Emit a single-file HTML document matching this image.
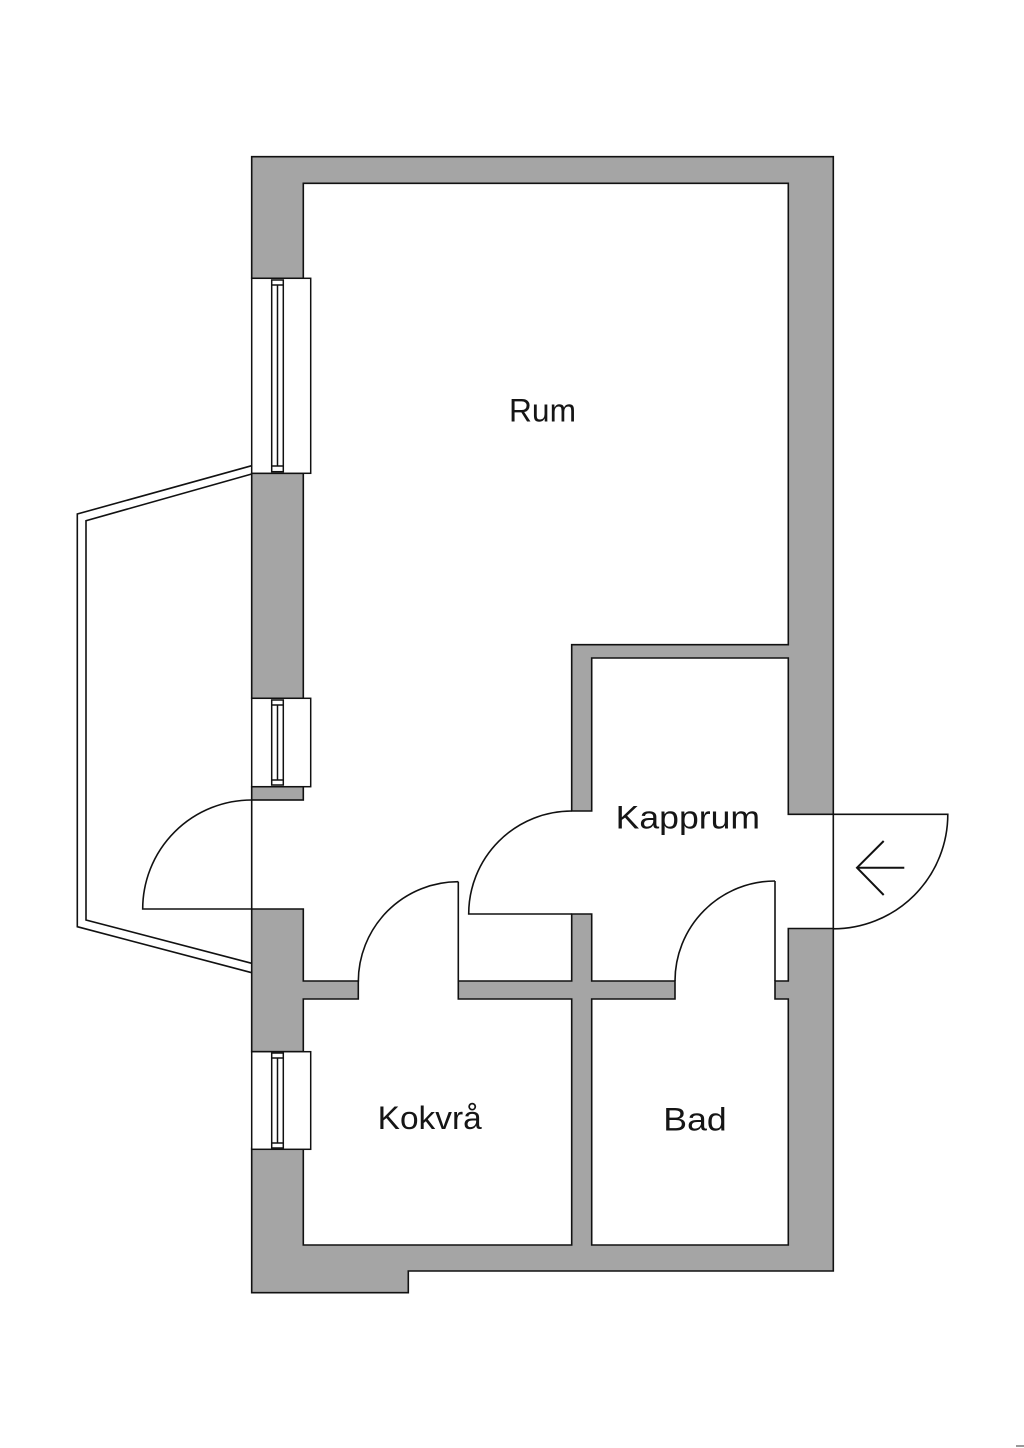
<!DOCTYPE html>
<html>
<head>
<meta charset="utf-8">
<style>
  html, body { margin: 0; padding: 0; background: #ffffff; }
  body { width: 1024px; height: 1448px; overflow: hidden; }
  svg { display: block; }
  text { font-family: "Liberation Sans", sans-serif; font-size: 32px; fill: #151515; }
</style>
</head>
<body>
<svg width="1024" height="1448" viewBox="0 0 1024 1448" xmlns="http://www.w3.org/2000/svg">
  <rect x="0" y="0" width="1024" height="1448" fill="#ffffff"/>

  <!-- Balcony outline -->
  <polyline points="251.7,465.7 77.3,514 77.3,926.7 251.7,972.7" fill="none" stroke="#111" stroke-width="1.6"/>
  <polyline points="251.7,474 86,520.7 86,920 251.7,963.3" fill="none" stroke="#111" stroke-width="1.6"/>

  <g fill="#a5a5a5" stroke="#111" stroke-width="1.6" stroke-linejoin="miter">
    <!-- top + right upper wall + Kapprum partition upper -->
    <polygon points="251.7,156.7 833.3,156.7 833.3,814.3 788.3,814.3 788.3,658 591.7,658 591.7,811 571.7,811 571.7,644.7 788.3,644.7 788.3,183.3 303.3,183.3 303.3,278.3 251.7,278.3"/>
    <!-- left wall between windows -->
    <rect x="251.7" y="473.3" width="51.6" height="225"/>
    <rect x="251.7" y="786.7" width="51.6" height="13.3"/>
    <!-- lower left -->
    <polygon points="251.7,909 303.3,909 303.3,981 358.3,981 358.3,999 303.3,999 303.3,1051.7 251.7,1051.7"/>
    <!-- bottom complex -->
    <polygon points="251.7,1148.3 303.3,1148.3 303.3,1245 571.7,1245 571.7,999 458.3,999 458.3,981 571.7,981 571.7,914 591.7,914 591.7,981 675,981 675,999 591.7,999 591.7,1245 788.3,1245 788.3,999 775,999 775,981 788.3,981 788.3,928.5 833.3,928.5 833.3,1271 408.3,1271 408.3,1292.7 251.7,1292.7"/>
  </g>

  <!-- Windows -->
  <g fill="#ffffff" stroke="#111" stroke-width="1.5">
    <rect x="251.7" y="278.3" width="59" height="195"/>
    <rect x="271.7" y="280" width="11.6" height="191.7"/>
    <line x1="277.5" y1="285" x2="277.5" y2="466"/>
    <line x1="271.7" y1="285" x2="283.3" y2="285"/>
    <line x1="271.7" y1="466" x2="283.3" y2="466"/>

    <rect x="251.7" y="698.3" width="59" height="88.4"/>
    <rect x="271.7" y="700" width="11.6" height="85"/>
    <line x1="277.5" y1="705" x2="277.5" y2="780"/>
    <line x1="271.7" y1="705" x2="283.3" y2="705"/>
    <line x1="271.7" y1="780" x2="283.3" y2="780"/>

    <rect x="251.7" y="1051.7" width="59" height="97.6"/>
    <rect x="271.7" y="1053" width="11.6" height="95"/>
    <line x1="277.5" y1="1058" x2="277.5" y2="1143"/>
    <line x1="271.7" y1="1058" x2="283.3" y2="1058"/>
    <line x1="271.7" y1="1143" x2="283.3" y2="1143"/>
  </g>

  <!-- Doors -->
  <g fill="none" stroke="#111" stroke-width="1.6">
    <!-- balcony door -->
    <line x1="251.7" y1="800" x2="251.7" y2="909"/>
    <path d="M251.7,800 A109,109 0 0 0 142.7,909 L251.7,909"/>
    <!-- Kokvrå door -->
    <path d="M458.3,881.7 A100,100 0 0 0 358.3,981.7"/>
    <line x1="458.3" y1="881.7" x2="458.3" y2="981"/>
    <!-- Kapprum to Rum door -->
    <path d="M571.7,811 A103,103 0 0 0 468.7,914 L571.7,914"/>
    <!-- Bad door -->
    <path d="M775,881 A100,100 0 0 0 675,981"/>
    <line x1="775" y1="881" x2="775" y2="981"/>
    <!-- entrance door -->
    <line x1="833.3" y1="814.3" x2="833.3" y2="928.5"/>
    <path d="M833.3,814.3 L947.8,814.3 A114.5,114.5 0 0 1 833.3,928.8"/>
  </g>

  <!-- Entrance arrow -->
  <g fill="none" stroke="#111" stroke-width="2">
    <line x1="904.3" y1="867.7" x2="857" y2="867.7"/>
    <polyline points="883.7,841 857,867.7 883.7,895"/>
  </g>

  <!-- Labels -->
  <text x="509" y="421.7" textLength="67" lengthAdjust="spacingAndGlyphs">Rum</text>
  <text x="615.7" y="828.3" textLength="144.3" lengthAdjust="spacingAndGlyphs">Kapprum</text>
  <text x="377.7" y="1129" textLength="104" lengthAdjust="spacingAndGlyphs">Kokvrå</text>
  <text x="663.3" y="1130.5" textLength="63.4" lengthAdjust="spacingAndGlyphs">Bad</text>

  <!-- tiny corner mark -->
  <rect x="1016" y="1445" width="8" height="2" fill="#9a9a9a"/>
</svg>
</body>
</html>
